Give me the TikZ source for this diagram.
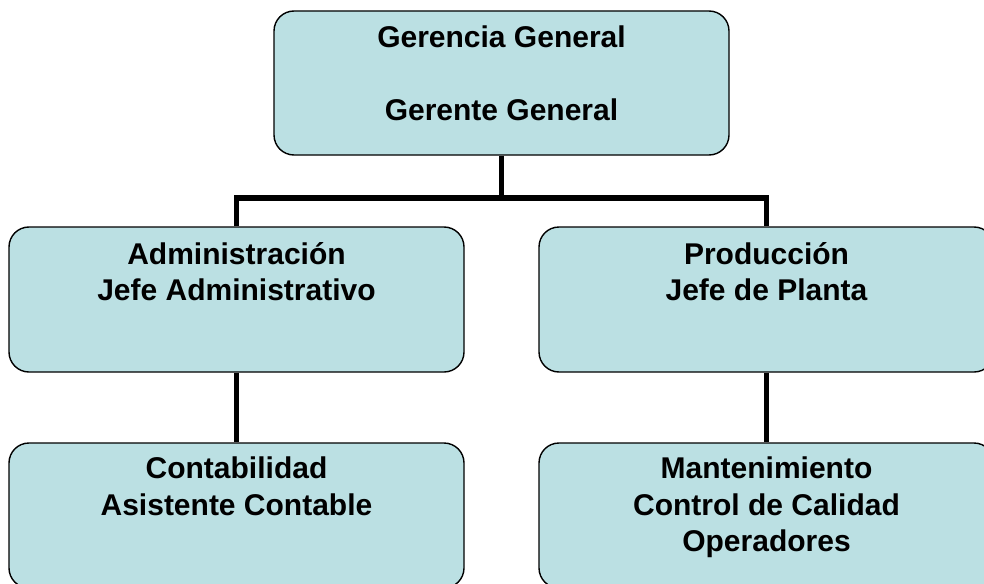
\documentclass[tikz,border=0pt]{standalone}
\usepackage{fontspec}
\setmainfont{Liberation Sans}
\usetikzlibrary{positioning}
\definecolor{cajaazul}{RGB}{187,224,227}

\tikzset{
    unidad/.style={draw, fill=cajaazul, line width=1.4pt, rounded corners=20pt,
        minimum width=455pt, minimum height=145pt, inner sep=0pt},
    texto/.style={align=center, inner sep=0pt,
        font=\fontsize{30}{36.5}\selectfont\bfseries},
    enlace/.style={line width=5.5pt}
}

\begin{document}
\begin{tikzpicture}[x=1pt,y=-1pt]
            \useasboundingbox (0,0) rectangle (984,583);
            \clip (0,0) rectangle (984,583);
            \fill[white] (0,0) rectangle (984,583);

            \node[unidad, minimum height=144pt] (ger) at (501.5,83) {};
            \node[unidad] (adm) at (236.5,299.5) {};
            \node[unidad] (pro) at (766.5,299.5) {};
            \node[unidad] (con) at (236.5,515.5) {};
            \node[unidad] (man) at (766.5,515.5) {};

            \node[texto, below=15.5pt of ger.north] (gert) {Gerencia General\\[\baselineskip]Gerente General};
            \node[texto, below=15.5pt of adm.north] (admt) {Administración\\Jefe Administrativo};
            \node[texto, below=15.5pt of pro.north] (prot) {Producción\\Jefe de Planta};
            \node[texto, below=14.5pt of con.north] (cont) {Contabilidad\\Asistente Contable};
            \node[texto, below=14.5pt of man.north] (mant) {Mantenimiento\\Control de Calidad\\Operadores};

            \coordinate (bus) at (501.5,198);
            \draw[enlace] (ger.south) -- (bus);
            \draw[enlace] (adm.north) |- (bus) -| (pro.north);
            \draw[enlace] (adm.south) -- (con.north);
            \draw[enlace] (pro.south) -- (man.north);
        \end{tikzpicture}
\end{document}
